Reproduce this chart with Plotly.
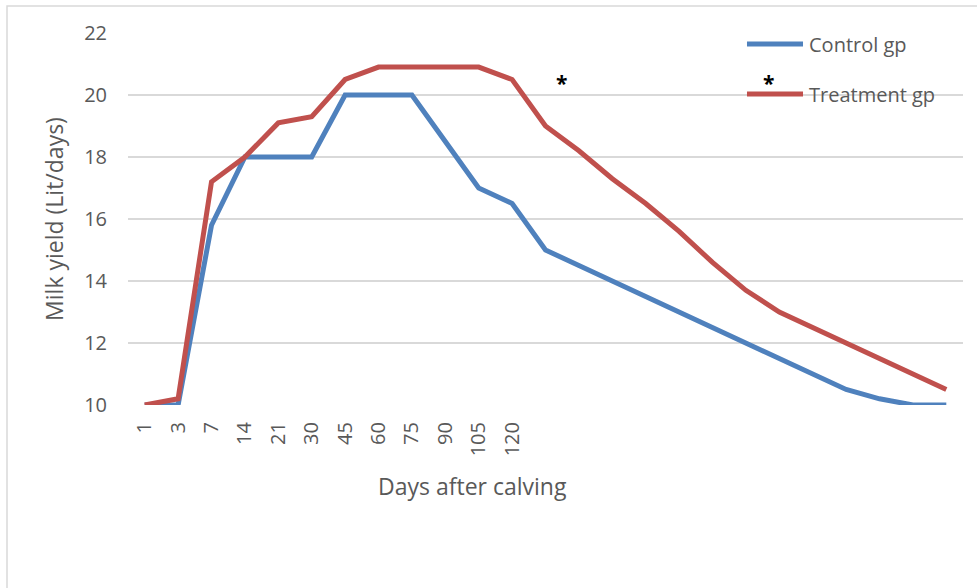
import plotly.graph_objects as go

# Days after calving shown on the category axis (later sampling points are unlabeled)
day_labels = ["1", "3", "7", "14", "21", "30", "45", "60", "75", "90", "105", "120"]

# Milk yield (Lit/days) for each sampling point
control_gp = [10, 10, 15.8, 18, 18, 18, 20, 20, 20, 18.5, 17, 16.5,
              15, 14.5, 14, 13.5, 13, 12.5, 12, 11.5, 11, 10.5, 10.2, 10, 10]
treatment_gp = [10, 10.2, 17.2, 18, 19.1, 19.3, 20.5, 20.9, 20.9, 20.9, 20.9, 20.5,
                19, 18.2, 17.3, 16.5, 15.6, 14.6, 13.7, 13, 12.5, 12, 11.5, 11, 10.5]

series_names = ["Control gp", "Treatment gp"]
series_colors = ["#4f81bd", "#c0504d"]

TEXT = "#595959"
GRID = "#d9d9d9"
FONT = "Open Sans"

positions = list(range(len(control_gp)))

fig = go.Figure()
for name, vals, color in zip(series_names, [control_gp, treatment_gp], series_colors):
    fig.add_trace(go.Scatter(
        x=positions, y=vals, mode="lines", name=name,
        line=dict(color=color, width=5), showlegend=False,
    ))

# Legend drawn as line samples with labels to the right
legend_y = [0.9704, 0.836]
for name, color, ly in zip(series_names, series_colors, legend_y):
    fig.add_shape(type="line", xref="paper", yref="paper",
                  x0=0.7413, x1=0.8084, y0=ly, y1=ly,
                  line=dict(color=color, width=5))
    fig.add_annotation(xref="paper", yref="paper", x=0.8132, y=ly,
                       text=name, showarrow=False, xanchor="left", yanchor="middle",
                       font=dict(family=FONT, size=20, color=TEXT))

# Significance markers
for ax_x in [0.5186, 0.7665]:
    fig.add_annotation(xref="paper", yref="paper", x=ax_x, y=0.866,
                       text="<b>*</b>", showarrow=False, xanchor="center", yanchor="middle",
                       font=dict(family=FONT, size=21, color="#000000"))

# X axis title
fig.add_annotation(xref="paper", yref="paper", x=0.412, y=-0.2177,
                   text="Days after calving", showarrow=False,
                   xanchor="center", yanchor="middle",
                   font=dict(family=FONT, size=23, color=TEXT))

# Outer chart border
fig.add_shape(type="rect", xref="paper", yref="paper",
              x0=-0.1449, x1=1.2, y0=-0.7, y1=1.0726,
              line=dict(color=GRID, width=1.5), layer="below")

fig.update_xaxes(
    range=[-0.5, len(positions) - 0.5],
    tickmode="array", tickvals=positions[:len(day_labels)], ticktext=day_labels,
    tickangle=-90, ticks="", ticklabelstandoff=12,
    tickfont=dict(family=FONT, size=20, color=TEXT),
    showgrid=False, zeroline=False, showline=False,
)
fig.update_yaxes(
    range=[10, 22], dtick=2, tick0=10,
    ticks="", ticklabelstandoff=20,
    tickfont=dict(family=FONT, size=20, color=TEXT),
    showgrid=True, gridcolor=GRID, gridwidth=1.5,
    zeroline=False, showline=False,
    title=dict(text="Milk yield (Lit/days)", standoff=14,
               font=dict(family=FONT, size=23, color=TEXT)),
)

fig.update_layout(
    width=977, height=588, autosize=False,
    margin=dict(l=128, r=14, t=33, b=183),
    paper_bgcolor="white", plot_bgcolor="white",
    showlegend=False,
)

fig.write_html("out.html")
